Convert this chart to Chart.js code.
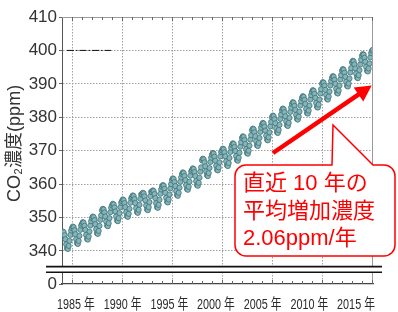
<!DOCTYPE html>
<html><head><meta charset="utf-8">
<script src="https://cdn.jsdelivr.net/npm/chart.js@4/dist/chart.umd.min.js"></script>
<style>html,body{margin:0;padding:0;background:#fff;}canvas{display:block;}</style>
</head><body>
<canvas id="c" width="398" height="312"></canvas>
<script>
// ---- data (monthly CO2, ppm) ----
const startYear = 1984;
const co2Monthly = [
345.3,345.8,345.6,344.7,343.5,342.0,340.8,340.6,341.5,343.0,344.8,346.1,
346.8,347.3,347.1,346.2,345.0,343.5,342.3,342.1,343.0,344.5,346.3,347.6,
348.1,348.6,348.4,347.5,346.3,344.8,343.6,343.4,344.3,345.8,347.6,348.9,
349.8,350.3,350.1,349.2,348.0,346.5,345.3,345.1,346.0,347.5,349.3,350.6,
352.1,352.6,352.4,351.5,350.3,348.8,347.6,347.4,348.3,349.8,351.6,352.9,
353.6,354.1,353.9,353.0,351.8,350.3,349.1,348.9,349.8,351.3,353.1,354.4,
354.9,355.4,355.2,354.3,353.1,351.6,350.4,350.2,351.1,352.6,354.4,355.7,
356.1,356.6,356.4,355.5,354.3,352.8,351.6,351.4,352.3,353.8,355.6,356.9,
356.9,357.4,357.2,356.3,355.1,353.6,352.4,352.2,353.1,354.6,356.4,357.7,
357.6,358.1,357.9,357.0,355.8,354.3,353.1,352.9,353.8,355.3,357.1,358.4,
359.2,359.7,359.5,358.6,357.4,355.9,354.7,354.5,355.4,356.9,358.7,360.0,
361.2,361.7,361.5,360.6,359.4,357.9,356.7,356.5,357.4,358.9,360.7,362.0,
363.0,363.5,363.3,362.4,361.2,359.7,358.5,358.3,359.2,360.7,362.5,363.8,
364.2,364.7,364.5,363.6,362.4,360.9,359.7,359.5,360.4,361.9,363.7,365.0,
367.1,367.6,367.4,366.5,365.3,363.8,362.6,362.4,363.3,364.8,366.6,367.9,
368.8,369.3,369.1,368.2,367.0,365.5,364.3,364.1,365.0,366.5,368.3,369.6,
370.1,370.6,370.4,369.5,368.3,366.8,365.6,365.4,366.3,367.8,369.6,370.9,
371.7,372.2,372.0,371.1,369.9,368.4,367.2,367.0,367.9,369.4,371.2,372.5,
373.8,374.3,374.1,373.2,372.0,370.5,369.3,369.1,370.0,371.5,373.3,374.6,
376.1,376.6,376.4,375.5,374.3,372.8,371.6,371.4,372.3,373.8,375.6,376.9,
377.8,378.3,378.1,377.2,376.0,374.5,373.3,373.1,374.0,375.5,377.3,378.6,
380.0,380.5,380.3,379.4,378.2,376.7,375.5,375.3,376.2,377.7,379.5,380.8,
382.1,382.6,382.4,381.5,380.3,378.8,377.6,377.4,378.3,379.8,381.6,382.9,
384.0,384.5,384.3,383.4,382.2,380.7,379.5,379.3,380.2,381.7,383.5,384.8,
385.8,386.3,386.1,385.2,384.0,382.5,381.3,381.1,382.0,383.5,385.3,386.6,
387.6,388.1,387.9,387.0,385.8,384.3,383.1,382.9,383.8,385.3,387.1,388.4,
390.0,390.5,390.3,389.4,388.2,386.7,385.5,385.3,386.2,387.7,389.5,390.8,
391.8,392.3,392.1,391.2,390.0,388.5,387.3,387.1,388.0,389.5,391.3,392.6,
393.9,394.4,394.2,393.3,392.1,390.6,389.4,389.2,390.1,391.6,393.4,394.7,
396.4,396.9,396.7,395.8,394.6,393.1,391.9,391.7,392.6,394.1,395.8,397.2,
398.4,398.9,398.7,397.8,396.6,395.1,393.9,393.7,394.6,396.1,397.9,399.2,
399.9,400.2
];
const yTickValues = [340,350,360,370,380,390,400,410];
const yZeroLabel = '0';
const xGridYears = [1985,1990,1995,2000,2005,2010];
const xTickLabels = ['1985 年','1990 年','1995 年','2000 年','2005 年','2010 年','2015 年'];
const refLine400 = [{x:1984.5,y:400},{x:1988.9,y:400}];
const trendArrow = {from:{x:2005.1,y:369.3}, to:{x:2014.97,y:389.5}};
const calloutLines = ['直近 10 年の','平均増加濃度','2.06ppm/年'];
const yTitle = ['CO','2','濃度(ppm)'];

// ---- axis ranges (broken axis: 0 shown at bottom) ----
const X_MIN = 1984, X_MAX = 2015.1;
const Y_MIN = 330.1, Y_MAX = 410;
const BREAK_HI = 335.3, BREAK_LO = 333.6;

const points = co2Monthly.map((v,i)=>({x:startYear + i/12, y:v}));
const xLabelPos = xTickLabels.map((_,i)=>1985.4 + i*4.667);

const RED = '#ff0000';
const decor = {
  id:'decor',
  afterDraw(chart){
    const {ctx, chartArea:a, scales:{x,y}} = chart;
    ctx.save();
    // top & right frame
    ctx.strokeStyle = '#9a9a9a'; ctx.lineWidth = 1;
    ctx.beginPath();
    ctx.moveTo(a.left, Math.round(a.top)+0.5); ctx.lineTo(a.right, Math.round(a.top)+0.5);
    ctx.moveTo(Math.round(a.right)-0.5, a.top); ctx.lineTo(Math.round(a.right)-0.5, a.bottom);
    ctx.stroke();
    // minor year ticks top & bottom
    ctx.strokeStyle = '#666';
    ctx.beginPath();
    for(let yr=1985; yr<=2015; yr++){
      const px = Math.round(x.getPixelForValue(yr))+0.5;
      const len = (yr%5===0)?4:3;
      ctx.moveTo(px, a.top); ctx.lineTo(px, a.top+len);
      ctx.moveTo(px, a.bottom); ctx.lineTo(px, a.bottom-len);
    }
    ctx.stroke();
    // x tick labels (condensed)
    ctx.fillStyle = '#2a2a2a';
    ctx.font = '15px "Liberation Sans", "Noto Sans CJK JP", sans-serif';
    ctx.textAlign = 'center'; ctx.textBaseline = 'middle';
    xTickLabels.forEach((t,i)=>{
      const px = x.getPixelForValue(xLabelPos[i]);
      ctx.save(); ctx.translate(px, 305); ctx.scale(0.72,1); ctx.fillText(t,0,0); ctx.restore();
    });
    // axis break
    const yb1 = y.getPixelForValue(BREAK_HI), yb2 = y.getPixelForValue(BREAK_LO);
    ctx.fillStyle = '#fff';
    ctx.fillRect(46, yb1, 336, yb2-yb1);
    ctx.strokeStyle = '#111'; ctx.lineWidth = 1.6;
    ctx.beginPath();
    ctx.moveTo(46, yb1); ctx.lineTo(382, yb1);
    ctx.moveTo(46, yb2); ctx.lineTo(382, yb2);
    ctx.stroke();
    // y title
    ctx.fillStyle = '#333';
    ctx.textBaseline = 'middle';
    ctx.translate(15, 202);
    ctx.rotate(-Math.PI/2);
    ctx.font = '18px "Liberation Sans", Arial, sans-serif';
    ctx.textAlign = 'left';
    let off = 0;
    ctx.fillText(yTitle[0], off, 0); off += ctx.measureText(yTitle[0]).width;
    ctx.font = '11px "Liberation Sans", Arial, sans-serif';
    ctx.fillText(yTitle[1], off+0.5, 4); off += ctx.measureText(yTitle[1]).width + 1;
    ctx.font = '18px "Liberation Sans", "Noto Sans CJK JP", sans-serif';
    ctx.fillText(yTitle[2], off, 0);
    ctx.setTransform(1,0,0,1,0,0);
    // arrow
    const x0 = x.getPixelForValue(trendArrow.from.x), y0 = y.getPixelForValue(trendArrow.from.y);
    const x1 = x.getPixelForValue(trendArrow.to.x), y1 = y.getPixelForValue(trendArrow.to.y);
    const L = Math.hypot(x1-x0, y1-y0), ux=(x1-x0)/L, uy=(y1-y0)/L;
    const hl = 16, hw = 8.5;
    ctx.strokeStyle = RED; ctx.fillStyle = RED; ctx.lineWidth = 4.5; ctx.lineCap='butt';
    ctx.beginPath(); ctx.moveTo(x0,y0); ctx.lineTo(x1-ux*(hl-2), y1-uy*(hl-2)); ctx.stroke();
    const bx = x1-ux*hl, by = y1-uy*hl;
    ctx.beginPath(); ctx.moveTo(x1,y1);
    ctx.lineTo(bx - uy*hw, by + ux*hw); ctx.lineTo(bx + uy*hw, by - ux*hw); ctx.closePath(); ctx.fill();
    // callout box
    const L0=235, R0=395, T0=165, B0=256, r=11;
    const tipX = 333, tipY = 125, pL = 332, pR = 373;
    ctx.beginPath();
    ctx.moveTo(L0+r, T0);
    ctx.lineTo(pL, T0); ctx.lineTo(tipX, tipY); ctx.lineTo(pR, T0);
    ctx.lineTo(R0-r, T0); ctx.arcTo(R0, T0, R0, T0+r, r);
    ctx.lineTo(R0, B0-r); ctx.arcTo(R0, B0, R0-r, B0, r);
    ctx.lineTo(L0+r, B0); ctx.arcTo(L0, B0, L0, B0-r, r);
    ctx.lineTo(L0, T0+r); ctx.arcTo(L0, T0, L0+r, T0, r);
    ctx.closePath();
    ctx.fillStyle = '#fff'; ctx.fill();
    ctx.strokeStyle = RED; ctx.lineWidth = 1.5; ctx.stroke();
    ctx.fillStyle = RED;
    ctx.font = '22px "Liberation Sans", "Noto Sans CJK JP", sans-serif';
    ctx.textAlign = 'left'; ctx.textBaseline = 'middle';
    calloutLines.forEach((t,i)=>ctx.fillText(t, 243, 184 + i*27.5));
    ctx.restore();
  }
};

new Chart(document.getElementById('c'), {
  type:'scatter',
  data:{datasets:[
    {type:'line', data:refLine400, borderColor:'#111', borderWidth:1, borderDash:[7,2,1.5,2], pointRadius:0, fill:false},
    {data:points, pointRadius:2.6, borderWidth:0.8, backgroundColor:'#86b6ba', borderColor:'#3e7177', pointHoverRadius:2.6}
  ]},
  options:{
    responsive:false, animation:false, devicePixelRatio:1,
    layout:{padding:{top:17, right:25, left:0, bottom:0}},
    plugins:{legend:{display:false}, tooltip:{enabled:false}},
    scales:{
      x:{type:'linear', position:'bottom', min:X_MIN, max:X_MAX,
        afterBuildTicks:s=>{s.ticks = xGridYears.map(v=>({value:v}));},
        afterFit:s=>{s.height=28;},
        ticks:{display:false},
        grid:{color:'#a0a0a0', lineWidth:1, drawTicks:false},
        border:{display:true, color:'#444', width:1.2, dash:[1.5,1.5]}
      },
      y:{type:'linear', min:Y_MIN, max:Y_MAX,
        afterBuildTicks:s=>{s.ticks = [Y_MIN].concat(yTickValues).map(v=>({value:v}));},
        afterFit:s=>{s.width=62;},
        ticks:{padding:2, color:'#333', font:{family:'"Liberation Sans", Arial, sans-serif', size:17},
          callback:v=> v < 335 ? yZeroLabel : String(v)},
        grid:{color:c=> (c.tick && c.tick.value>335 && c.tick.value<409) ? '#a0a0a0' : 'rgba(0,0,0,0)',
          tickColor:'#666', tickLength:3, drawTicks:true, lineWidth:1},
        border:{display:true, color:'#555', width:1, dash:[1.5,1.5]}
      }
    }
  },
  plugins:[decor]
});
</script>
</body></html>
